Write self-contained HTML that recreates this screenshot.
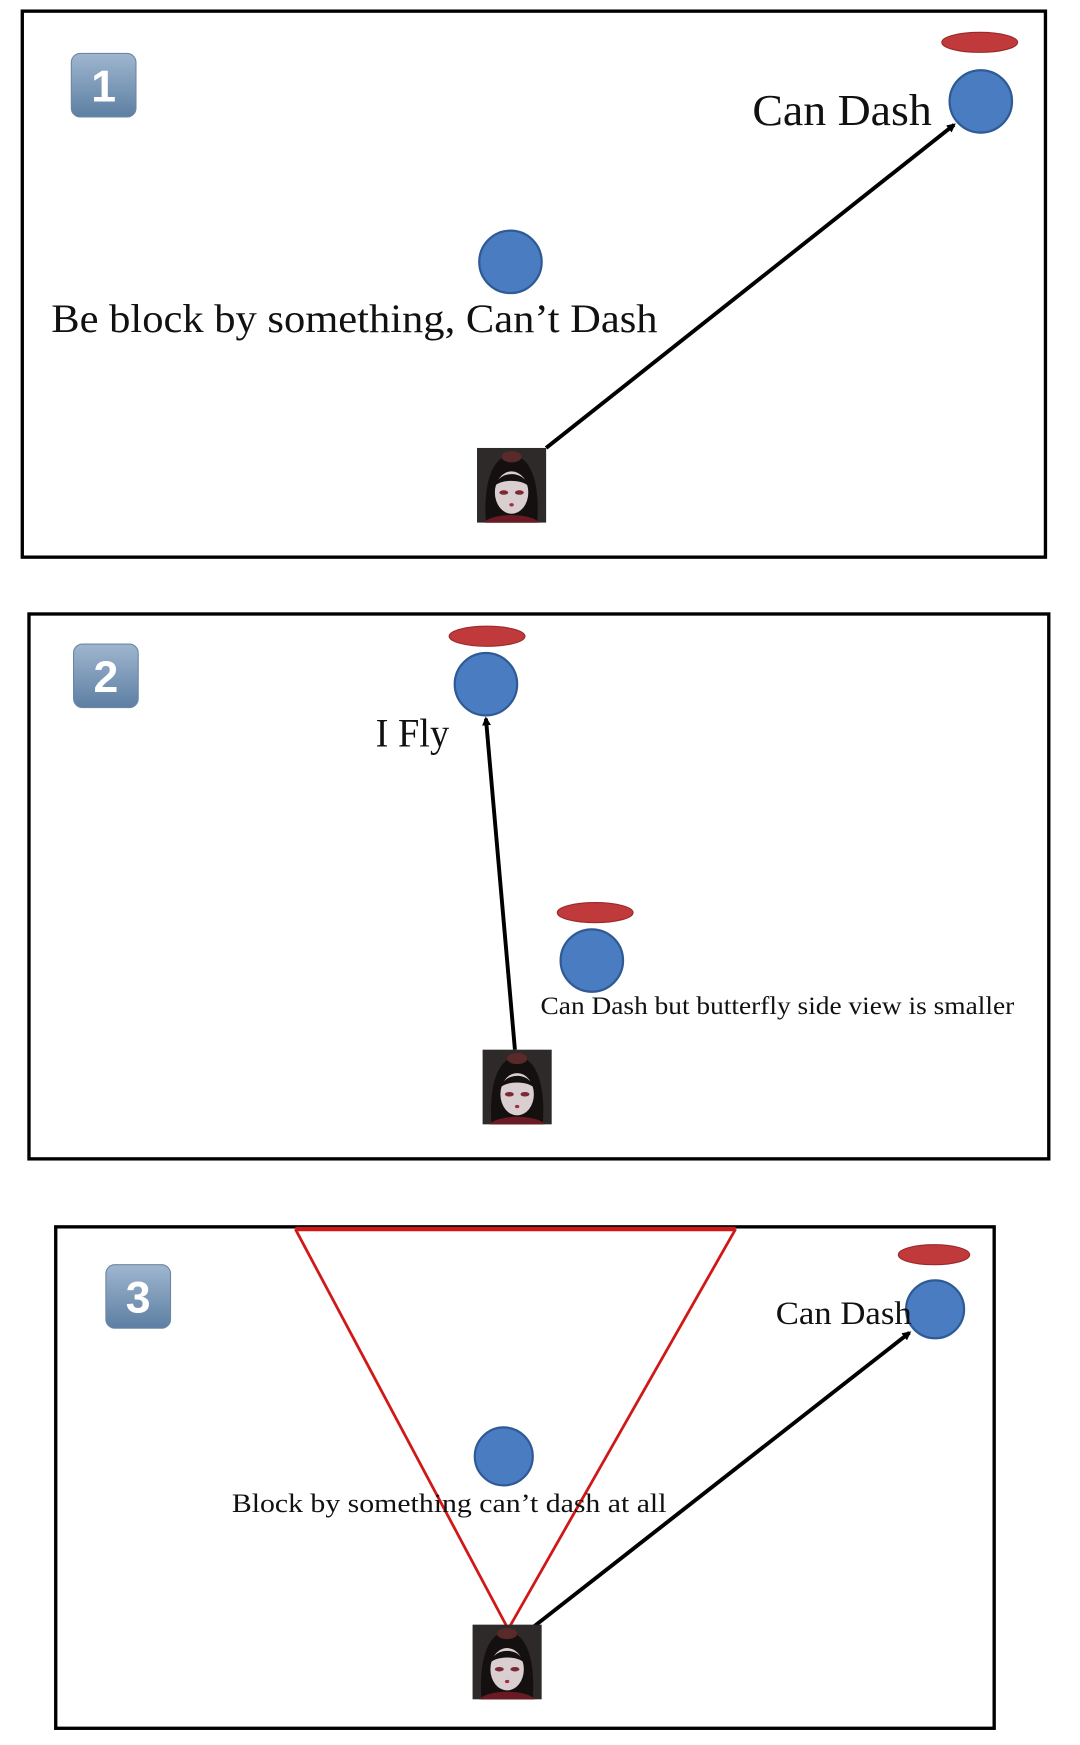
<!DOCTYPE html>
<html><head><meta charset="utf-8"><style>
html,body{margin:0;padding:0;background:#fff;width:1080px;height:1745px;overflow:hidden}
svg{display:block}
text{font-family:"Liberation Serif",serif;fill:#111}
</style></head><body>
<svg width="1080" height="1745" viewBox="0 0 969 1566" preserveAspectRatio="none">
<defs>
<linearGradient id="bg" x1="0" y1="0" x2="0" y2="1">
<stop offset="0" stop-color="#9fb6cf"/><stop offset="1" stop-color="#5d7fa3"/></linearGradient>
<marker id="ah" markerWidth="8" markerHeight="8" refX="6" refY="4" orient="auto" markerUnits="userSpaceOnUse">
<path d="M0,0 L8,4 L0,8 z" fill="#000"/></marker>
<g id="av">
<rect x="0" y="0" width="62" height="67" fill="#2e2a2a"/>
<path d="M8,67 C6,40 10,8 31,6 C52,8 56,40 54,67 z" fill="#141010"/>
<ellipse cx="31" cy="8" rx="9" ry="5" fill="#5a2a2a"/>
<ellipse cx="31" cy="40" rx="15" ry="19" fill="#d9cfd0"/>
<path d="M16,34 C20,20 42,20 46,34 C40,28 22,28 16,34z" fill="#141010"/>
<ellipse cx="24" cy="40" rx="4" ry="2" fill="#7a2a34"/>
<ellipse cx="38" cy="40" rx="4" ry="2" fill="#7a2a34"/>
<ellipse cx="31" cy="51" rx="2" ry="1.5" fill="#a03040"/>
<path d="M6,67 C14,58 48,58 56,67 z" fill="#6a1a22"/>
</g>
<g id="bd"><rect x="0" y="0" width="58" height="57" rx="8" fill="url(#bg)" stroke="#6d87a3" stroke-width="1"/></g>
</defs>

<!-- Panel 1 -->
<rect x="20" y="10" width="918" height="490" fill="none" stroke="#000" stroke-width="3"/>
<use href="#bd" x="64" y="48"/>
<text x="93" y="91" text-anchor="middle" style="font-family:'Liberation Sans',sans-serif;font-weight:bold;font-size:40px;fill:#fff">1</text>
<ellipse cx="879" cy="38" rx="34" ry="9" fill="#c0393b" stroke="#9a2a2a" stroke-width="1"/>
<circle cx="880" cy="91" r="28" fill="#4a7cc2" stroke="#2e5a96" stroke-width="2"/>
<text x="675" y="112" font-size="40" textLength="161" lengthAdjust="spacingAndGlyphs">Can Dash</text>
<circle cx="458" cy="235" r="28" fill="#4a7cc2" stroke="#2e5a96" stroke-width="2"/>
<text x="46" y="298" font-size="36" textLength="544" lengthAdjust="spacingAndGlyphs">Be block by something, Can’t Dash</text>
<line x1="490" y1="402" x2="856" y2="112" stroke="#000" stroke-width="3.5" marker-end="url(#ah)"/>
<use href="#av" x="428" y="402"/>

<!-- Panel 2 -->
<rect x="26" y="551" width="915" height="489" fill="none" stroke="#000" stroke-width="3"/>
<use href="#bd" x="66" y="578"/>
<text x="95" y="621" text-anchor="middle" style="font-family:'Liberation Sans',sans-serif;font-weight:bold;font-size:40px;fill:#fff">2</text>
<ellipse cx="437" cy="571" rx="34" ry="9" fill="#c0393b" stroke="#9a2a2a" stroke-width="1"/>
<circle cx="436" cy="614" r="28" fill="#4a7cc2" stroke="#2e5a96" stroke-width="2"/>
<text x="337" y="670" font-size="36" textLength="66" lengthAdjust="spacingAndGlyphs">I Fly</text>
<line x1="462" y1="942" x2="436" y2="645" stroke="#000" stroke-width="3.5" marker-end="url(#ah)"/>
<ellipse cx="534" cy="819" rx="34" ry="9" fill="#c0393b" stroke="#9a2a2a" stroke-width="1"/>
<circle cx="531" cy="862" r="28" fill="#4a7cc2" stroke="#2e5a96" stroke-width="2"/>
<text x="485" y="910" font-size="23" textLength="425" lengthAdjust="spacingAndGlyphs">Can Dash but butterfly side view is smaller</text>
<use href="#av" x="433" y="942"/>

<!-- Panel 3 -->
<rect x="50" y="1101" width="842" height="450" fill="none" stroke="#000" stroke-width="3"/>
<use href="#bd" x="95" y="1135"/>
<text x="124" y="1178" text-anchor="middle" style="font-family:'Liberation Sans',sans-serif;font-weight:bold;font-size:40px;fill:#fff">3</text>
<line x1="265" y1="1103" x2="660" y2="1103" stroke="#d01818" stroke-width="4"/>
<polyline points="265,1103 456,1462 660,1103" fill="none" stroke="#d01818" stroke-width="2.5"/>
<ellipse cx="838" cy="1126" rx="32" ry="9" fill="#c0393b" stroke="#9a2a2a" stroke-width="1"/>
<circle cx="839" cy="1175" r="26" fill="#4a7cc2" stroke="#2e5a96" stroke-width="2"/>
<text x="696" y="1188" font-size="29" textLength="122" lengthAdjust="spacingAndGlyphs">Can Dash</text>
<circle cx="452" cy="1307" r="26" fill="#4a7cc2" stroke="#2e5a96" stroke-width="2"/>
<text x="208" y="1357" font-size="24" textLength="390" lengthAdjust="spacingAndGlyphs">Block by something can’t dash at all</text>
<line x1="476" y1="1462" x2="816" y2="1196" stroke="#000" stroke-width="3.5" marker-end="url(#ah)"/>
<use href="#av" x="424" y="1458"/>
</svg>
</body></html>
